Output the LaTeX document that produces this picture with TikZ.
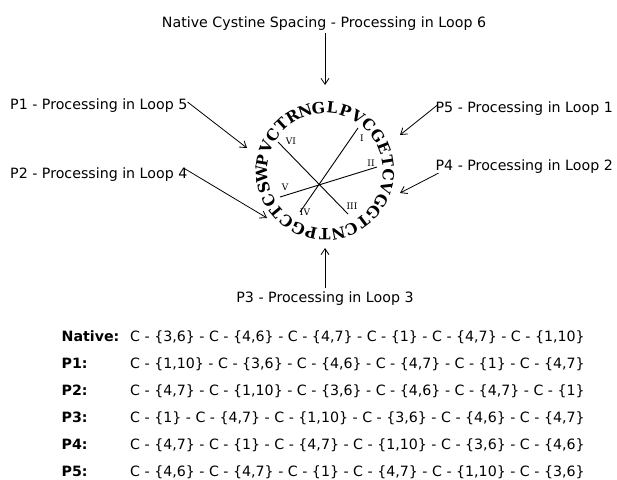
\documentclass[tikz,border=0pt]{standalone}
\usepackage{fontspec}
\setmainfont{DejaVu Sans}
\newfontfamily\seqfont{DejaVu Serif}
\usetikzlibrary{arrows.meta,calc}
\begin{document}
\begin{tikzpicture}[x=1pt,y=1pt,
  lbl/.style={font=\fontsize{14.2}{16}\selectfont, inner sep=0pt},
  rowlbl/.style={font=\bfseries\fontsize{14.2}{16}\selectfont, inner sep=0pt, anchor=base west},
  rowseq/.style={font=\fontsize{14.2}{16}\selectfont, inner sep=0pt, anchor=base west},
  arr/.style={-{Straight Barb[length=6pt,width=8pt]}, line width=0.8pt},
  res/.style={font=\seqfont\bfseries\fontsize{15.5}{15.5}\selectfont, inner sep=0pt},
  rn/.style={font=\seqfont\fontsize{9}{9}\selectfont, inner sep=0pt},
  ss/.style={line width=0.9pt}]
\useasboundingbox[fill=white] (0,0) rectangle (617,-479);
\coordinate (c) at (325,-171);
% residues
\foreach \l [count=\i from 0] in {G,L,P,V,C,G,E,T,C,V,G,G,T,C,N,T,P,G,C,T,C,S,W,P,V,C,T,R,N} {
  \pgfmathsetmacro\ang{96-\i*360/29}
  \node[res, rotate=\ang-90] (r\i) at ($(c)+(\ang:63.5)$) {\l};
}
% disulfide bonds
\coordinate (s1) at (358,-128);
\coordinate (s2) at (377,-167);
\coordinate (s3) at (348,-214);
\coordinate (s4) at (300,-212);
\coordinate (s5) at (280,-197);
\coordinate (s6) at (278,-142);
\draw[ss] (s1) -- (s4);
\draw[ss] (s2) -- (s5);
\draw[ss] (s3) -- (s6);
\node[rn] (n1) at (362,-138) {I};
\node[rn] (n2) at (371,-163) {II};
\node[rn] (n3) at (352,-206) {III};
\node[rn] (n4) at (305,-212) {IV};
\node[rn] (n5) at (285,-187) {V};
\node[rn] (n6) at (291,-141) {VI};
% labels
\node[lbl, anchor=base] (top) at (324,-27) {Native Cystine Spacing - Processing in Loop 6};
\node[lbl, anchor=base west] (p1) at (10,-109) {P1 - Processing in Loop 5};
\node[lbl, anchor=base west] (p2) at (10,-178) {P2 - Processing in Loop 4};
\node[lbl, anchor=base east] (p5) at (613,-112) {P5 - Processing in Loop 1};
\node[lbl, anchor=base east] (p4) at (613,-170) {P4 - Processing in Loop 2};
\node[lbl, anchor=base] (p3) at (325,-302) {P3 - Processing in Loop 3};
% arrows
\coordinate (t0) at (325,-85);
\coordinate (t1) at (247,-148);
\coordinate (t2) at (267,-218);
\coordinate (t3) at (325,-248);
\coordinate (t4) at (400,-193);
\coordinate (t5) at (400,-135);
\draw[arr] (top.south -| t0) ++(0,-3) -- (t0);
\draw[arr] (p1.north east) ++(0,-4) -- (t1);
\draw[arr] (p2.north east) ++(-4,-1) -- (t2);
\draw[arr] (p3.north -| t3) ++(0,3) -- (t3);
\draw[arr] (p4.south west) ++(3,0) -- (t4);
\draw[arr] (p5.north west) ++(2,-4) -- (t5);
% table
\foreach \lab/\seq [count=\k from 0] in {
  Native:/{C - \{3,6\} - C - \{4,6\} - C - \{4,7\} - C - \{1\} - C - \{4,7\} - C - \{1,10\}},
  P1:/{C - \{1,10\} - C - \{3,6\} - C - \{4,6\} - C - \{4,7\} - C - \{1\} - C - \{4,7\}},
  P2:/{C - \{4,7\} - C - \{1,10\} - C - \{3,6\} - C - \{4,6\} - C - \{4,7\} - C - \{1\}},
  P3:/{C - \{1\} - C - \{4,7\} - C - \{1,10\} - C - \{3,6\} - C - \{4,6\} - C - \{4,7\}},
  P4:/{C - \{4,7\} - C - \{1\} - C - \{4,7\} - C - \{1,10\} - C - \{3,6\} - C - \{4,6\}},
  P5:/{C - \{4,6\} - C - \{4,7\} - C - \{1\} - C - \{4,7\} - C - \{1,10\} - C - \{3,6\}}} {
  \node[rowlbl] (L\k) at (61.5,-341-27*\k) {\lab};
  \node[rowseq] (S\k) at (130,-341-27*\k) {\seq};
}
\end{tikzpicture}
\end{document}
